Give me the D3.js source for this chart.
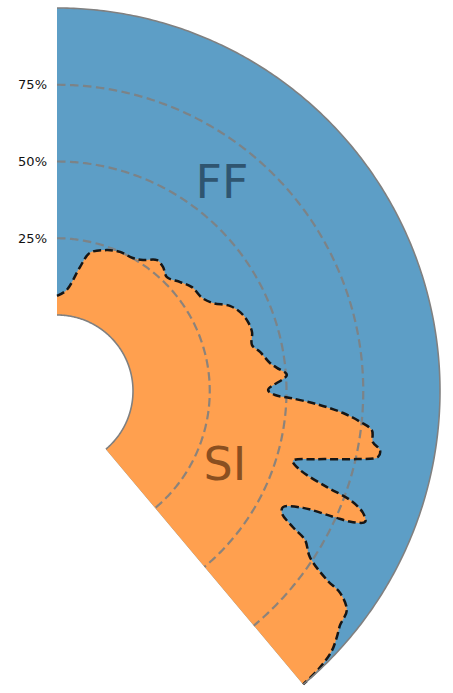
<!DOCTYPE html>
<html>
<head>
<meta charset="utf-8">
<script src="https://cdn.jsdelivr.net/npm/d3@7"></script>
<style>
  html, body { margin: 0; padding: 0; background: #ffffff; }
  svg { display: block; }
</style>
</head>
<body>
<svg id="chart" width="453" height="693"></svg>
<script>
// Angle (degrees, math convention: 90 = up, 0 = right, negative = below)
const angles = [90, 84.5, 79.5, 76.6, 70.6, 65.6, 60.3, 56.7, 52.6, 49.5, 46.0, 41.5, 37.6, 32.7, 29.4, 26.2,
  23.3, 19.9, 16.8, 13.3, 10.9, 7.5, 6.0, 4.0, 0.3, -1.05, -1.7, -2.9, -4.4, -5.8, -7.1, -9.2, -10.35, -11.6,
  -12.8, -14.7, -16.5, -18.0, -19.6, -20.4, -21.7, -23.0, -23.9, -24.5, -25.4, -27.2, -28.5, -30.0, -31.0,
  -33.3, -35.0, -35.5, -37.1, -39.6, -41.3, -43.5, -46.7, -50];
// SI share (%) at each angle; FF is the remainder up to 100%
const siShare = [6.2, 8.3, 16.3, 21.5, 23.9, 25.0, 25.1, 26.3, 28.9, 28.4, 26.8, 28.8, 30.7, 31.4, 33.6, 38.0,
  40.2, 41.4, 41.6, 40.5, 42.6, 45.2, 47.3, 50.3, 44.0, 46.3, 51.2, 60.0, 68.7, 74.5, 78.6, 79.5, 82.2, 82.0,
  75.4, 62.8, 55.4, 58.5, 68.6, 77.1, 82.5, 84.3, 80.7, 74.1, 64.0, 58.0, 58.6, 64.0, 69.5,
  73.8, 82.6, 88.5, 93.6, 94.9, 96.6, 98.5, 99.6, 100];
const radialTicks = [25, 50, 75];
const tickLabels = ["25%", "50%", "75%"];
const seriesLabels = ["FF", "SI"];

const cx = 57, cy = 391;
const thetaMax = 90, thetaMin = -50;
const svg = d3.select("#chart");
const g = svg.append("g").attr("transform", `translate(${cx},${cy})`);

const rScale = d3.scaleLinear().domain([0, 100]).range([76, 383]);
// d3 radial angle: 0 at top, clockwise
const aScale = d3.scaleLinear().domain([90, -90]).range([0, Math.PI]);

const blue = "#5d9ec6", orange = "#ffa04f";

// FF background sector
const arc = d3.arc();
g.append("path")
  .attr("d", arc({innerRadius: rScale(0), outerRadius: rScale(100),
                  startAngle: aScale(thetaMax), endAngle: aScale(thetaMin)}))
  .attr("fill", blue);

const data = angles.map((a, i) => ({a, v: siShare[i]}));

// SI area
const area = d3.areaRadial()
  .angle(d => aScale(d.a))
  .innerRadius(rScale(0))
  .outerRadius(d => rScale(d.v))
  .curve(d3.curveCatmullRom.alpha(0.5));
g.append("path").datum(data).attr("d", area).attr("fill", orange);

// grid arcs
const gridLine = d3.lineRadial().curve(d3.curveLinear);
radialTicks.forEach(t => {
  const pts = d3.range(thetaMax, thetaMin - 0.01, -0.5).map(a => [aScale(a), rScale(t)]);
  g.append("path").attr("d", gridLine(pts))
    .attr("fill", "none").attr("stroke", "#808080").attr("stroke-opacity", 0.9)
    .attr("stroke-width", 2.2).attr("stroke-dasharray", "8.5,4.5");
});

// boundary line
const line = d3.lineRadial()
  .angle(d => aScale(d.a))
  .radius(d => rScale(d.v))
  .curve(d3.curveCatmullRom.alpha(0.5));
g.append("path").datum(data).attr("d", line)
  .attr("fill", "none").attr("stroke", "#161616").attr("stroke-width", 2.5)
  .attr("stroke-dasharray", "8,3.8");

// outer and inner spines
[0, 100].forEach(v => {
  const pts = d3.range(thetaMax, thetaMin - 0.01, -0.5).map(a => [aScale(a), rScale(v)]);
  g.append("path").attr("d", gridLine(pts))
    .attr("fill", "none").attr("stroke", "#808080").attr("stroke-width", 1.6);
});

// radial tick labels
radialTicks.forEach((t, i) => {
  svg.append("text")
    .attr("x", 47).attr("y", cy - rScale(t))
    .attr("text-anchor", "end").attr("dominant-baseline", "central")
    .attr("font-family", "DejaVu Sans, sans-serif").attr("font-size", 13)
    .attr("fill", "#111").text(tickLabels[i]);
});

// series labels
svg.append("text").attr("x", 222).attr("y", 198)
  .attr("text-anchor", "middle").attr("font-family", "DejaVu Sans, sans-serif")
  .attr("font-size", 46).attr("fill", "#2f5570").text(seriesLabels[0]);
svg.append("text").attr("x", 225).attr("y", 480)
  .attr("text-anchor", "middle").attr("font-family", "DejaVu Sans, sans-serif")
  .attr("font-size", 46).attr("fill", "#8a4f20").text(seriesLabels[1]);
</script>
</body>
</html>
